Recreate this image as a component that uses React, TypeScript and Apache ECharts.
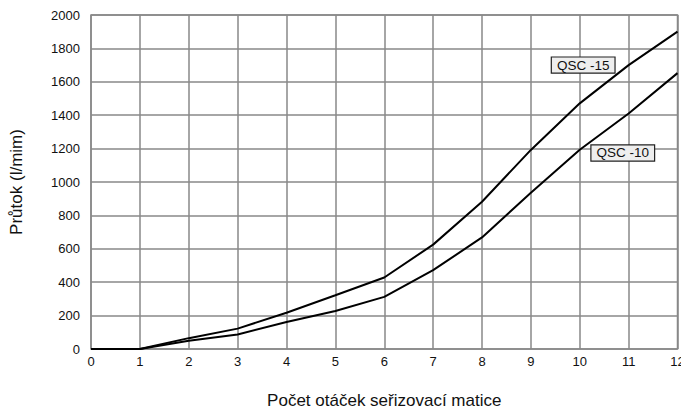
import React, { useEffect, useRef } from "react";
import * as echarts from "echarts";

const xTicks = [0, 1, 2, 3, 4, 5, 6, 7, 8, 9, 10, 11, 12];
const qsc15 = [0, 0, 65, 122, 217, 322, 428, 625, 882, 1192, 1471, 1700, 1900];
const qsc10 = [0, 0, 50, 87, 162, 228, 312, 472, 668, 935, 1193, 1410, 1652];
const label15 = { name: "QSC -15", x: 10.07, y: 1700 };
const label10 = { name: "QSC -10", x: 10.88, y: 1174 };

export default function App() {
  const ref = useRef<HTMLDivElement>(null);
  useEffect(() => {
    if (!ref.current) return;
    const chart = echarts.init(ref.current, null, { renderer: "svg" });
    const font = "Liberation Sans, Arial, sans-serif";
    const mkLabel = (l: { name: string; x: number; y: number }) => ({
      symbol: "rect",
      symbolSize: 0,
      data: [{ coord: [l.x, l.y] }],
      label: {
        show: true,
        position: "inside",
        formatter: l.name,
        fontFamily: font,
        fontSize: 13.5,
        color: "#111",
        backgroundColor: "#eeeeee",
        borderColor: "#222",
        borderWidth: 1.2,
        padding: [1, 5, 0, 5],
      },
    });
    chart.setOption({
      animation: false,
      grid: {
        left: 91,
        top: 15,
        right: 3.5,
        bottom: 60,
        show: true,
        borderColor: "#888",
        borderWidth: 1.5,
        outerBoundsMode: "none",
        containLabel: false,
      },
      xAxis: {
        type: "value",
        min: 0,
        max: 12,
        interval: 1,
        name: "Počet otáček seřizovací matice",
        nameLocation: "middle",
        nameGap: 43,
        nameTextStyle: { fontFamily: font, fontSize: 17, color: "#111" },
        axisLine: { show: false },
        axisTick: { show: false },
        axisLabel: { fontFamily: font, fontSize: 13, color: "#111", margin: 6, formatter: (v: number) => String(v) },
        splitLine: { show: true, lineStyle: { color: "#888", width: 1.5 } },
      },
      yAxis: {
        type: "value",
        min: 0,
        max: 2000,
        interval: 200,
        name: "Průtok (l/mim)",
        nameLocation: "middle",
        nameGap: 66,
        nameTextStyle: { fontFamily: font, fontSize: 17, color: "#111" },
        axisLine: { show: false },
        axisTick: { show: false },
        axisLabel: { fontFamily: font, fontSize: 13, color: "#111", margin: 11, formatter: (v: number) => String(v) },
        splitLine: { show: true, lineStyle: { color: "#888", width: 1.5 } },
      },
      series: [
        {
          type: "line",
          data: xTicks.map((x, i) => [x, qsc15[i]]),
          symbol: "none",
          lineStyle: { color: "#000", width: 2 },
          markPoint: mkLabel(label15),
          z: 3,
        },
        {
          type: "line",
          data: xTicks.map((x, i) => [x, qsc10[i]]),
          symbol: "none",
          lineStyle: { color: "#000", width: 2 },
          markPoint: mkLabel(label10),
          z: 3,
        },
      ],
    });
    return () => chart.dispose();
  }, []);
  return (
    <div
      ref={ref}
      style={{ position: "absolute", left: 0, top: 0, width: 681, height: 409, background: "#fff" }}
    />
  );
}
